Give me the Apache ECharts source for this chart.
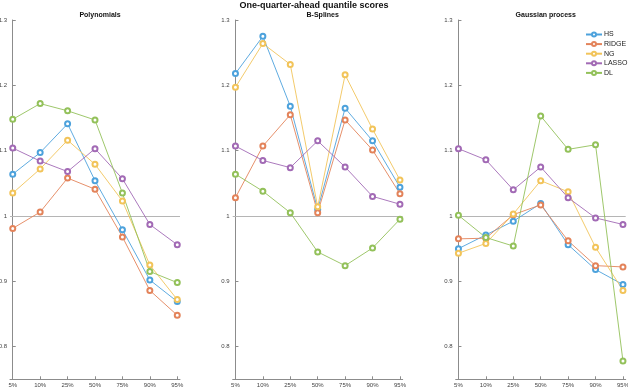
<!DOCTYPE html>
<html>
<head>
<meta charset="utf-8">
<script src="https://cdn.jsdelivr.net/npm/echarts@6/dist/echarts.min.js"></script>
<style>
  html, body { margin: 0; padding: 0; background: #fff; }
  #chart { width: 628px; height: 388px; }
</style>
</head>
<body>
<div id="chart"></div>
<script>
// quantile levels on the x axis
const quantiles = ['5%', '10%', '25%', '50%', '75%', '90%', '95%']
const yTicks = [0.8, 0.9, 1, 1.1, 1.2, 1.3]
const methods = ['HS', 'RIDGE', 'NG', 'LASSO', 'DL']
const colors = ['#4DA2DC', '#E3835A', '#F2C45A', '#A26AB5', '#93C15A']
const panelTitles = ['Polynomials', 'B-Splines', 'Gaussian process']

// Polynomials
const polyHS    = [1.064, 1.097, 1.141, 1.054, 0.979, 0.902, 0.869]
const polyRIDGE = [0.981, 1.006, 1.058, 1.041, 0.968, 0.886, 0.848]
const polyNG    = [1.035, 1.072, 1.116, 1.079, 1.023, 0.925, 0.872]
const polyLASSO = [1.104, 1.084, 1.068, 1.103, 1.057, 0.987, 0.956]
const polyDL    = [1.148, 1.172, 1.161, 1.147, 1.035, 0.915, 0.898]

// B-Splines
const splHS    = [1.218, 1.275, 1.168, 1.010, 1.165, 1.115, 1.044]
const splRIDGE = [1.028, 1.107, 1.155, 1.005, 1.147, 1.101, 1.034]
const splNG    = [1.197, 1.264, 1.232, 1.014, 1.216, 1.133, 1.055]
const splLASSO = [1.107, 1.085, 1.074, 1.115, 1.075, 1.030, 1.018]
const splDL    = [1.064, 1.038, 1.005, 0.945, 0.924, 0.951, 0.995]

// Gaussian process
const gpHS    = [0.950, 0.971, 0.992, 1.019, 0.956, 0.918, 0.895]
const gpRIDGE = [0.965, 0.966, 1.002, 1.017, 0.962, 0.924, 0.922]
const gpNG    = [0.943, 0.958, 1.003, 1.054, 1.037, 0.952, 0.886]
const gpLASSO = [1.103, 1.086, 1.040, 1.075, 1.028, 0.997, 0.987]
const gpDL    = [1.001, 0.967, 0.954, 1.153, 1.102, 1.109, 0.778]

const panels = [
  [polyHS, polyRIDGE, polyNG, polyLASSO, polyDL],
  [splHS, splRIDGE, splNG, splLASSO, splDL],
  [gpHS, gpRIDGE, gpNG, gpLASSO, gpDL]
]

const gridLefts = [10, 232.7, 455.7]
const gridWidth = 170
const axisGray = '#8c8c8c'
const labelColor = '#444'

const chart = echarts.init(document.getElementById('chart'))

const grid = gridLefts.map(l => ({
  left: l, top: 20, width: gridWidth, height: 359.3,
  containLabel: false, outerBoundsMode: 'none'
}))

const xAxis = gridLefts.map((l, i) => ({
  type: 'value',
  gridIndex: i,
  min: -0.1,
  max: 6.1,
  splitLine: { show: false },
  axisLine: { lineStyle: { color: axisGray, width: 1 } },
  axisTick: { inside: true, length: 3, customValues: [0, 1, 2, 3, 4, 5, 6], lineStyle: { color: axisGray } },
  axisLabel: {
    customValues: [0, 1, 2, 3, 4, 5, 6],
    formatter: v => quantiles[Math.round(v)],
    fontSize: 6, color: labelColor, margin: 3, fontFamily: 'Liberation Sans'
  }
}))

const yAxis = gridLefts.map((l, i) => ({
  type: 'value',
  gridIndex: i,
  min: 0.75,
  max: 1.3,
  splitLine: { show: false },
  axisLine: { show: true, lineStyle: { color: axisGray, width: 1 } },
  axisTick: { show: true, inside: true, length: 3, customValues: yTicks, lineStyle: { color: axisGray } },
  axisLabel: {
    customValues: yTicks,
    fontSize: 6, color: labelColor, margin: 3, fontFamily: 'Liberation Sans'
  }
}))

const series = []
panels.forEach((panel, p) => {
  panel.forEach((vals, m) => {
    const s = {
      name: methods[m],
      type: 'line',
      xAxisIndex: p,
      yAxisIndex: p,
      data: vals.map((v, k) => [k, v]),
      symbol: 'emptyCircle',
      symbolSize: 5,
      color: colors[m],
      lineStyle: { width: 0.9, color: colors[m] },
      itemStyle: { borderWidth: 0.7, color: colors[m] },
      z: 3
    }
    if (m === 0) {
      // gray reference line at 1
      s.markLine = {
        silent: true,
        symbol: 'none',
        label: { show: false },
        lineStyle: { color: '#b5b5b5', type: 'solid', width: 1 },
        data: [{ yAxis: 1 }],
        z: 1
      }
    }
    series.push(s)
  })
})

const titles = [{
  text: 'One-quarter-ahead quantile scores',
  left: 'center',
  top: -4,
  textStyle: { fontSize: 9, fontWeight: 'bold', color: '#111', fontFamily: 'Liberation Sans' }
}]
panelTitles.forEach((t, i) => {
  titles.push({
    text: t,
    left: gridLefts[i] + gridWidth / 2,
    textAlign: 'center',
    top: 7,
    textStyle: { fontSize: 7, fontWeight: 'bold', color: '#111', fontFamily: 'Liberation Sans' }
  })
})

chart.setOption({
  animation: false,
  title: titles,
  grid: grid,
  xAxis: xAxis,
  yAxis: yAxis,
  legend: {
    data: methods,
    orient: 'vertical',
    left: 580,
    top: 26,
    itemWidth: 16,
    itemHeight: 5,
    itemGap: 2.6,
    textStyle: { fontSize: 7, color: '#222', fontFamily: 'Liberation Sans', padding: [0, 0, 0, -3] }
  },
  series: series
})
</script>
</body>
</html>
